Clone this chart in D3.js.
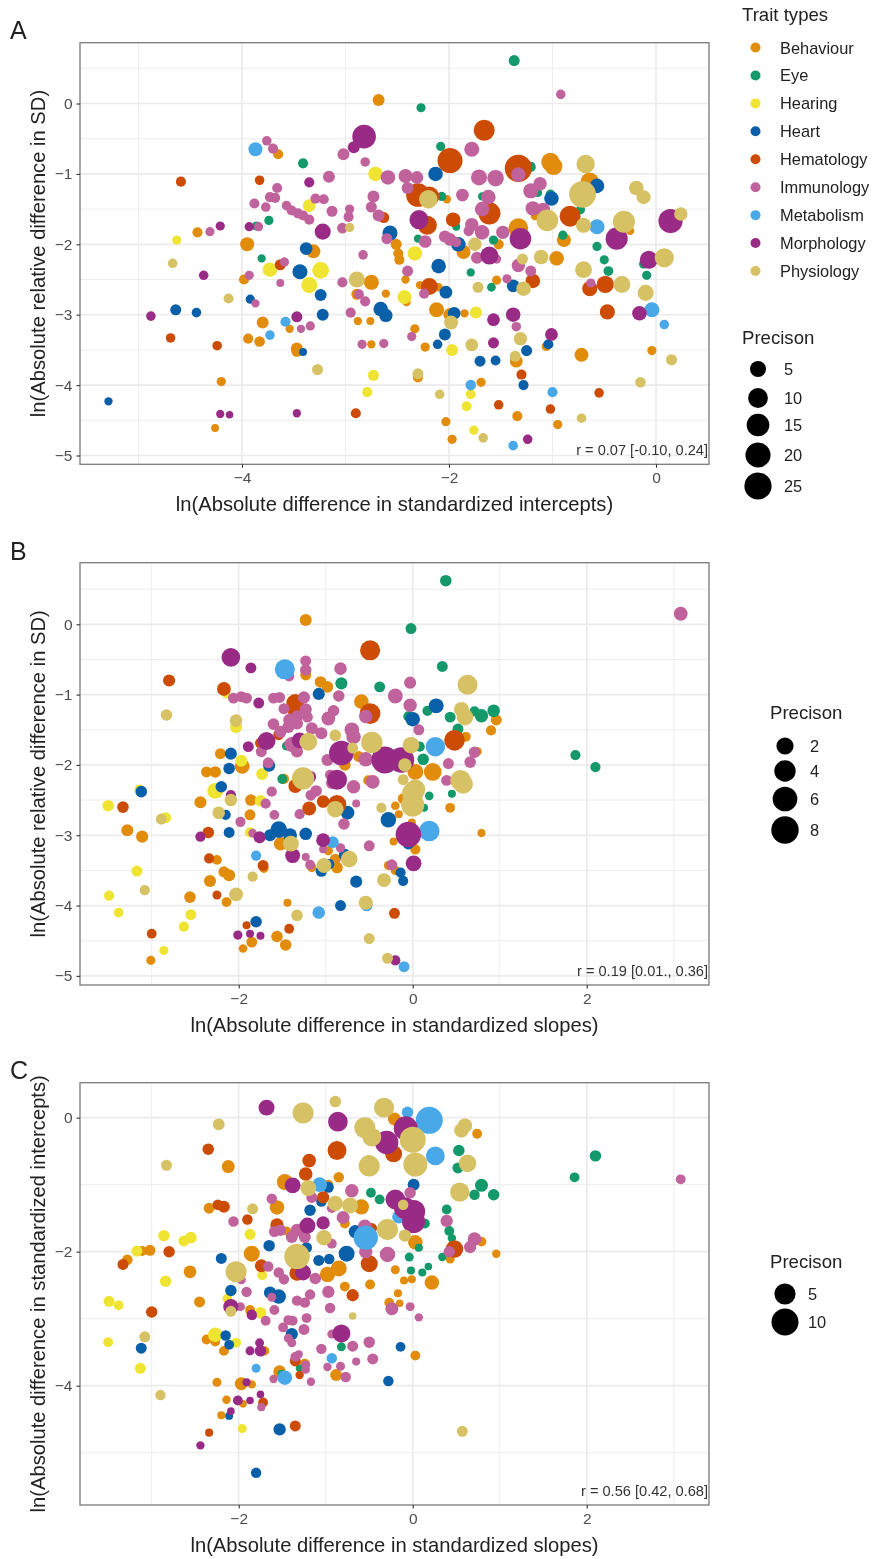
<!DOCTYPE html>
<html><head><meta charset="utf-8">
<script src="https://cdn.jsdelivr.net/npm/d3@7"></script>
<style>
html,body{margin:0;padding:0;background:#fff}
svg{display:block;filter:blur(0.55px)}
text{font-family:"Liberation Sans",Arial,sans-serif}
</style></head><body>
<svg id="c" width="874" height="1559"></svg>
<script>
const traits=["Behaviour","Eye","Hearing","Heart","Hematology","Immunology","Metabolism","Morphology","Physiology"];
const traitColors=["#E28C0B","#14996A","#F0E432","#0A60A8","#CD4C05","#C0629B","#49A8E8","#992B87","#D6C164"];

// Panel A: [ln diff intercepts, ln relative diff SD, precision]
const A_Behaviour=[[-2.68,.05,1.5],[-3.65,-.72,.6],[-4.43,-1.83,.6],[-3.95,-2,3],[-3.31,-2.1,3],[-2.51,-2,1],[-2.49,-2.13,.6],[-2.48,-2.22,.6],[-2.75,-2.54,4],[-2.89,-2.71,1],[-2.61,-2.7,.1],[-3.98,-2.5,.6],[-3.8,-3.11,1.5],[-3.54,-3.2,.1],[-2.88,-3.09,.1],[-2.76,-3.09,.05],[-2.75,-3.42,.1],[-3.94,-3.34,.6],[-3.83,-3.38,.8],[-3.47,-3.48,1.5],[-3.47,-3.52,1],[-4.2,-3.95,.3],[-4.26,-4.61,.05],[-1.02,-.83,8],[-.99,-.89,7],[-2.02,-1.36,.1],[-1.33,-1.77,10],[-.64,-1.11,8],[-.25,-1.81,.1],[-1.17,-1.6,.1],[-1.52,-2,.6],[-1.86,-2.11,3],[-.89,-1.94,3],[-.96,-2.2,3.5],[-2.42,-2.5,.1],[-1.54,-2.51,.3],[-2.28,-2.58,.1],[-2.1,-2.61,.1],[-2.41,-2.82,.1],[-2.12,-2.93,4],[-1.99,-3,2.5],[-1.85,-2.98,.1],[-2.33,-3.2,.3],[-2.23,-3.46,.3],[-1.06,-3.45,.3],[-1.35,-3.66,2],[-2.3,-3.89,.6],[-1.69,-3.96,.3],[-.72,-3.57,3],[-.04,-3.51,.3],[-2.03,-4.52,.3],[-1.34,-4.44,.6],[-.95,-4.56,.3],[-1.97,-4.77,.3]];
const A_Eye=[[-3.41,-.85,.6],[-3.74,-1.66,.3],[-3.86,-1.74,.3],[-3.81,-2.2,.1],[-1.37,.61,1],[-2.27,-.06,.3],[-2.08,-.61,.3],[-1.21,-.9,.6],[-2.07,-1.32,.3],[-1.68,-1.32,.1],[-1.14,-1.27,.1],[-1.02,-1.29,.4],[-1.93,-1.75,.05],[-2.3,-1.92,.1],[-1.57,-1.94,.3],[-.9,-1.87,.3],[-.73,-1.51,.3],[-.57,-2.03,.3],[-.5,-2.22,.3],[-.46,-2.38,.5],[-.12,-2.28,.3],[-.09,-2.44,.3],[-1.79,-2.4,.1],[-1.59,-2.61,.2]];
const A_Hearing=[[-4.63,-1.94,.3],[-2.71,-1,3.5],[-3.35,-1.45,2],[-3.73,-2.36,3.5],[-3.24,-2.37,6],[-3.35,-2.58,5],[-2.43,-2.75,3],[-2.73,-3.86,1],[-2.79,-4.1,.6],[-2.33,-2.13,3.5],[-1.74,-2.97,1.5],[-1.97,-3.5,1.5],[-1.79,-4.13,.5],[-1.83,-4.3,.5],[-1.76,-4.64,.3]];
const A_Heart=[[-5.29,-4.23,.1],[-4.64,-2.93,1],[-4.44,-2.97,.4],[-3.92,-2.78,.3],[-3.44,-2.39,4],[-3.38,-2.06,2],[-3.24,-2.72,1.5],[-3.22,-3,1.5],[-2.57,-1.84,4],[-2.66,-2.92,3.5],[-2.61,-3.01,2.5],[-3.41,-3.53,.05],[-2.13,-1,3.5],[-1.91,-2,3.5],[-2.1,-2.31,3.5],[-2.03,-2.68,2],[-1.95,-2.98,2],[-2.04,-3.28,1.5],[-2.11,-3.42,.4],[-1.01,-1.35,3.5],[-.57,-1.17,3.5],[-1.38,-2.59,2],[-1.04,-3.42,.6],[-1.25,-3.51,1],[-1.7,-3.66,1],[-1.55,-3.65,.5],[-1.28,-4,.6]];
const A_Hematology=[[-4.59,-1.11,.6],[-3.83,-1.09,.4],[-2.63,-1.62,1],[-3.63,-2.29,1],[-4.69,-3.33,.4],[-4.24,-3.44,.4],[-2.9,-4.4,.6],[-1.66,-.38,12],[-1.99,-.81,20],[-1.33,-.92,25],[-2.3,-1.3,17],[-2.19,-1.32,10],[-1.61,-1.56,14],[-2.21,-1.73,9],[-1.96,-1.65,3.5],[-.83,-1.6,12],[-2.19,-2.6,6],[-1.19,-2.52,3.5],[-.64,-2.63,4],[-.49,-2.57,6.5],[-.47,-2.96,4],[-1.3,-3.85,.6],[-.55,-4.11,.4],[-1.52,-4.28,.4],[-1.02,-4.34,.4]];
const A_Immunology=[[-3.76,-.53,.4],[-3.7,-.64,.6],[-3.02,-.72,1.5],[-2.81,-.83,.4],[-3.16,-1.04,1.5],[-2.59,-1.05,3.5],[-3.66,-1.2,.6],[-3.73,-1.33,.6],[-3.68,-1.34,.6],[-3.88,-1.42,.6],[-3.77,-1.47,.4],[-3.57,-1.45,.4],[-3.52,-1.52,.6],[-3.46,-1.56,.6],[-3.41,-1.59,.6],[-3.35,-1.65,.6],[-3.29,-1.35,.6],[-3.21,-1.36,.6],[-3.13,-1.53,1],[-2.96,-1.5,.3],[-2.97,-1.61,.6],[-3.03,-1.77,.8],[-2.73,-1.32,1.5],[-2.75,-1.47,1],[-2.68,-1.59,1.5],[-3.84,-1.75,.3],[-4.31,-1.82,.3],[-2.6,-1.92,1],[-2.83,-2.15,.4],[-3.59,-2.25,.3],[-3.93,-2.44,.3],[-3.63,-2.55,.05],[-3.03,-2.54,.6],[-2.87,-2.71,.5],[-2.81,-2.81,.6],[-3.87,-2.84,.1],[-2.95,-2.97,.6],[-3.43,-3.2,.1],[-3.34,-3.16,.3],[-2.84,-3.42,.3],[-2.63,-3.41,.3],[-.92,.13,.4],[-1.78,-.65,4],[-2.42,-1.03,3],[-2.31,-1.05,2],[-2.4,-1.2,1.5],[-1.87,-1.3,2],[-1.71,-1.05,5],[-1.55,-1.06,5.5],[-1.33,-1.01,3.5],[-1.12,-1.14,2.5],[-1.21,-1.24,4],[-1.62,-1.33,3.5],[-1.68,-1.5,3.5],[-1.19,-1.49,3.5],[-1.09,-1.51,3],[-1.78,-1.72,2.5],[-1.81,-1.81,.7],[-1.68,-1.83,3.5],[-2.04,-1.89,1.5],[-1.99,-1.93,2],[-1.93,-1.97,.5],[-2.23,-1.96,2],[-1.48,-1.83,2.5],[-1.73,-2.19,1.5],[-1.54,-2.21,.3],[-1.33,-2.3,2.5],[-1.21,-2.38,1],[-1.44,-2.49,.3],[-2.4,-2.38,1],[-2.24,-2.7,.6],[-.63,-2.55,.3],[-1.35,-3.17,.4],[-2.36,-3.31,.3]];
const A_Metabolism=[[-3.87,-.65,3],[-3.58,-3.1,.6],[-3.73,-3.29,.4],[-.57,-1.75,4],[-.04,-2.93,4],[.08,-3.14,.4],[-1.79,-4,.8],[-1,-4.1,.6],[-1.38,-4.86,.4]];
const A_Morphology=[[-2.82,-.47,17],[-2.92,-.62,1.5],[-3.35,-1.12,.6],[-4.21,-1.74,.3],[-3.93,-1.75,.3],[-3.22,-1.82,5],[-4.37,-2.44,.4],[-4.88,-3.02,.4],[-3.47,-3.03,1],[-4.21,-4.41,.1],[-4.12,-4.42,.02],[-3.47,-4.4,.1],[-2.29,-1.65,9],[-1.31,-1.92,13],[-1.61,-2.16,7.5],[-.38,-1.92,14],[.14,-1.67,18],[-.07,-2.22,7.5],[-.16,-2.98,3.5],[-1.38,-3,3.5],[-1.57,-3.07,2],[-1.57,-3.4,1],[-1.01,-3.28,2],[-1.24,-4.77,.4]];
const A_Physiology=[[-4.67,-2.27,.4],[-4.13,-2.77,.6],[-3.27,-3.78,1],[-2.89,-2.5,5],[-2.96,-1.76,.3],[-2.2,-1.36,8],[-1.75,-2,2.5],[-1.29,-2.21,1],[-1.11,-2.18,3.5],[-1.05,-1.66,13],[-.71,-1.29,24],[-.68,-.86,8],[-.7,-1.73,4],[-.31,-1.68,14],[.24,-1.57,2.5],[-.19,-1.2,3.5],[-.12,-1.33,3],[.08,-2.19,9],[-.7,-2.36,6],[-.33,-2.57,6],[-.1,-2.69,5],[-1.28,-2.63,3.5],[-1.72,-2.61,1],[-1.98,-3.11,3],[-1.78,-3.43,2],[-1.31,-3.34,2.5],[-1.36,-3.59,1],[-2.3,-3.84,1],[-2.09,-4.13,.4],[-1.67,-4.75,.4],[-.72,-4.47,.4],[-.15,-3.96,.8],[.15,-3.64,1]];

// Panel B: [ln diff slopes, ln relative diff SD, precision]
const B_Behaviour=[[-1.23,.06,.5],[-1.06,-.82,.4],[-.98,-.89,.4],[-1.23,-.72,.3],[-.59,-1.1,1.1],[-2.21,-1.84,.3],[-2.37,-2.1,.3],[-2.27,-2.1,.4],[-1.96,-2.02,1.2],[-2.44,-2.53,.5],[-1.86,-2.5,.4],[-1.87,-2.71,.3],[-3.28,-2.93,.5],[-3.11,-3.02,.5],[-2.25,-3.35,.15],[-2.17,-3.52,.3],[-2.11,-3.57,.5],[-2.33,-3.65,.5],[-2.56,-3.88,.4],[-2.14,-3.95,.15],[-1.44,-3.96,.02],[-1.85,-4.52,.3],[-1.95,-4.61,.05],[-1.56,-4.44,.4],[-1.46,-4.56,.4],[-3.01,-4.78,.08],[-1.52,-3.12,.8],[-.87,-3.46,.4],[-.89,-3.34,.3],[-.97,-3.22,.1],[-1.16,-3.46,.1],[-1.71,-3.47,.1],[-.78,-2,.4],[-.62,-1.88,.3],[-.51,-2.22,.2],[-1.48,-2.2,.2],[.03,-2.1,1.5],[.23,-2.1,2.2],[-.2,-2.58,.05],[-.16,-2.7,.02],[.43,-2.61,.15],[-.01,-2.82,.02],[.79,-2.97,.02],[-.22,-3.09,.02],[.03,-3.2,.2],[-.28,-3.43,.08],[-.2,-3.5,.1],[-.11,-2.48,.3],[.96,-1.36,.3],[.9,-1.51,.2],[.61,-1.6,.15],[.74,-1.81,.1]];
const B_Eye=[[.38,.62,.4],[-.02,-.06,.3],[.34,-.6,.3],[-.82,-.84,.5],[-.38,-.89,.3],[-.05,-1.31,.2],[.17,-1.23,.2],[.43,-1.32,.3],[.71,-1.24,.2],[.79,-1.3,.8],[.93,-1.23,.6],[.52,-1.49,.3],[.12,-1.92,.4],[.08,-1.74,.2],[.19,-2.44,.05],[.45,-2.41,.02],[.13,-2.61,.02],[-1.5,-2.2,.15],[-1.45,-1.73,.1],[1.87,-1.86,.2],[2.1,-2.03,.2]];
const B_Hearing=[[-3.5,-2.58,.4],[-3.14,-2.35,.2],[-2.84,-2.75,.3],[-2.27,-2.37,1.5],[-1.97,-1.94,.5],[-2.03,-1.46,.5],[-1.73,-2.13,.5],[-1.75,-2.51,.4],[-1.87,-2.96,.2],[-3.17,-3.51,.3],[-3.49,-3.86,.2],[-3.38,-4.1,.15],[-2.55,-4.13,.3],[-2.63,-4.3,.2],[-2.86,-4.64,.08],[-2.14,-1,.02]];
const B_Heart=[[-3.12,-2.38,.4],[-2.09,-1.84,.5],[-2.11,-2.05,.4],[-2.2,-2.31,.4],[-2.15,-2.71,.2],[-2.11,-2.96,.3],[-1.65,-2.01,.5],[-1.8,-4.23,.4],[-1.64,-3,.5],[-1.54,-2.92,1.8],[-1.41,-3,.9],[-1.23,-2.98,.6],[-1.08,-.99,.5],[-1.18,-2.62,.3],[-.75,-2.68,.9],[-.78,-3.28,.5],[-1.05,-3.51,.4],[-.65,-3.66,.5],[-.83,-4,.3],[-.28,-2.78,1.4],[0,-1.35,1.1],[.27,-1.16,1.2],[-.05,-3.12,.4],[-.14,-3.53,.2],[-.11,-3.65,.2],[-.96,-3.41,.2]];
const B_Hematology=[[-2.8,-.8,.5],[-2.17,-.92,.9],[-.49,-.37,3.3],[-1.35,-1.12,2.3],[-.49,-1.27,3.6],[-1.37,-1.2,1],[-1.54,-1.57,.3],[-1.75,-1.69,.3],[-3.33,-2.6,.4],[-2.35,-2.96,.4],[-2.34,-3.33,.2],[-1.72,-3.43,.3],[-2.25,-3.85,.08],[-3,-4.4,.15],[-1.91,-4.28,.02],[-1.42,-4.33,.15],[-1.35,-2.3,.9],[-1.19,-2.62,.9],[-1.03,-2.52,.6],[-.87,-2.56,2.6],[-.21,-4.11,.3],[.48,-1.65,3.6]];
const B_Immunology=[[-1.23,-.52,.3],[-1.23,-.65,.4],[-1.42,-.74,.2],[-.83,-.63,.6],[-.03,-.83,.5],[-.2,-1.02,1.2],[-.03,-1.15,.8],[-.85,-1.02,.4],[-2.06,-1.05,.3],[-1.97,-1.03,.3],[-1.91,-1.05,.3],[-1.6,-1.05,.3],[-1.53,-1.04,.3],[-1.25,-1.04,.5],[-1.48,-1.2,.3],[-1.23,-1.21,.5],[-.91,-1.23,.4],[-.97,-1.34,.9],[-.54,-1.31,.8],[-1.42,-1.36,.5],[-1.33,-1.31,.5],[-1.21,-1.32,.3],[-1.6,-1.42,.4],[-1.43,-1.46,.5],[-1.33,-1.41,.5],[-1.52,-1.53,.5],[-1.16,-1.48,.5],[-1.05,-1.55,.5],[-.7,-1.5,1.1],[-.68,-1.6,1.1],[-1.39,-1.71,1.2],[-1.33,-1.81,.5],[-1.74,-1.81,.3],[-1.66,-1.97,.3],[-.98,-1.93,.5],[-.54,-1.92,1.1],[.07,-1.5,.3],[.71,-1.82,.4],[.66,-1.96,.4],[.41,-1.98,.3],[.39,-2.22,.3],[-.95,-2.14,.2],[-.46,-2.24,.9],[-.68,-2.31,.8],[-.93,-2.26,.4],[-1.11,-2.37,.4],[-1.17,-2.43,.3],[-1.62,-2.38,.2],[-1.69,-2.55,.2],[-1.59,-2.71,.15],[-1.3,-2.7,.2],[-1.98,-2.81,.2],[-1.84,-2.97,.05],[-.79,-2.84,.4],[-.65,-2.55,.02],[-.5,-3.15,.3],[-.83,-3.18,.1],[-1.23,-3.31,.02],[-1.18,-3.42,.15],[-.24,-3.42,.3],[-1.03,-3.2,.02],[3.08,.15,.9]];
const B_Metabolism=[[-1.47,-.64,3.3],[.26,-1.74,3],[.19,-2.94,3.6],[-.92,-3.1,.5],[-1.8,-3.29,.2],[-1.08,-4.1,.6],[-.53,-4,.4],[-.1,-4.87,.3]];
const B_Morphology=[[-2.09,-.47,2.6],[-1.86,-.62,.3],[-1.77,-1.12,.3],[-1.68,-1.66,2.3],[-1.89,-1.74,.3],[-1.3,-1.65,1.5],[-.82,-1.83,6],[-.87,-2.21,3.3],[-.32,-1.93,7.7],[-.13,-1.93,6.6],[-2.09,-2.43,.2],[-1.18,-2.17,.5],[-2.44,-3.02,.2],[-1.76,-3.03,.5],[-1.03,-3.07,.9],[-.05,-2.99,6.6],[-1.38,-3.29,1.2],[.01,-3.4,1.5],[-2.01,-4.42,.1],[-1.87,-4.4,.02],[-1.75,-4.43,.02],[-.2,-4.78,.2]];
const B_Physiology=[[-2.83,-1.29,.4],[-2.03,-1.37,.6],[-.89,-1.58,.4],[-1.2,-1.67,2.3],[-.47,-1.68,4],[-.69,-1.76,.3],[-.02,-1.72,1.8],[-.09,-2,.8],[-1.26,-2.19,4.5],[.63,-.86,3.3],[.56,-1.21,1.2],[.6,-1.32,1.8],[.55,-2.22,3.6],[.58,-2.27,3],[-2.09,-2.5,.6],[-2.23,-2.68,.6],[-2.89,-2.77,.3],[-1.4,-3.12,1.5],[-.89,-2.63,1.8],[-.36,-2.61,.2],[-.11,-2.21,.3],[.03,-2.35,3.3],[0,-2.57,5],[0,-2.4,4],[-1.02,-3.43,1.2],[-.73,-3.34,1.8],[-.33,-3.64,.9],[-1.84,-3.59,.2],[-3.08,-3.78,.2],[-2.03,-3.84,.9],[-.54,-3.96,1],[-1.33,-4.14,.4],[-.5,-4.47,.3],[-.29,-4.75,.3]];

// Panel C: [ln diff slopes, ln diff intercepts, precision]
const C_Behaviour=[[-2.12,-.73,.9],[-.21,-.02,.9],[-.51,-.66,1],[.74,-.24,.2],[-.85,-.89,.3],[-1.47,-.96,2],[-.97,-1,.2],[-1.56,-1.34,1.4],[-2.34,-1.35,.4],[-.59,-1.33,1.7],[-.78,-1.58,.2],[-1.56,-1.61,.6],[-1.45,-1.69,.1],[-1.85,-2.03,2],[-3.02,-1.98,.4],[-3.11,-1.99,.2],[-3.28,-2.12,.3],[-2.56,-2.3,.8],[-2.45,-2.75,.4],[-.85,-2.25,2],[-.98,-2.34,1.7],[-.2,-2.27,.1],[-.1,-2.43,.03],[-.01,-2.41,.03],[-.49,-2.49,.2],[-.78,-2.52,.2],[-.17,-2.62,.03],[-.27,-2.76,.2],[-.15,-2.77,.01],[.22,-2.46,1.4],[.03,-1.86,1.4],[.79,-1.85,.2],[.96,-2.03,.05],[.43,-2.11,.1],[-1.87,-2.87,.2],[-2.37,-3.31,.2],[-2.27,-3.34,.2],[-2.17,-3.48,.2],[-1.7,-3.48,.1],[.03,-3.55,.2],[-1.53,-3.79,.8],[-.88,-3.84,.6],[-2.25,-3.95,.1],[-1.97,-3.97,.9],[-1.85,-3.98,.05],[-2.14,-4.21,.05],[-1.95,-4.27,.01],[-2.2,-4.44,.03],[-1.24,-3.67,.2]];
const C_Eye=[[.53,-.49,.5],[.52,-.75,.4],[.79,-1.01,.9],[.93,-1.15,.5],[.71,-1.15,.3],[.39,-1.37,.2],[.42,-1.69,.2],[.45,-1.8,.05],[.34,-2.08,.05],[.11,-2.31,.03],[.18,-2.22,.01],[.14,-1.58,.2],[-.48,-1.12,.2],[-.38,-1.22,.2],[-.04,-2.08,.1],[-.02,-2.28,.03],[.07,-1.94,.03],[-.82,-3.42,.1],[-1.3,-3.74,.01],[-1.51,-3.82,.01],[1.86,-.89,.2],[2.1,-.57,.5]];
const C_Hearing=[[-2.86,-1.76,.5],[-2.63,-1.84,.4],[-2.55,-1.79,.6],[-3.17,-1.99,.4],[-2.84,-2.44,.5],[-3.49,-2.74,.4],[-3.38,-2.8,.2],[-3.5,-3.35,.2],[-3.13,-3.74,.4],[-2.27,-3.24,1.4],[-2.03,-3.36,.2],[-1.87,-1.74,.4],[-1.73,-2.35,.2],[-1.75,-2.91,.5],[-2.13,-2.7,.2],[-1.96,-4.64,.1]];
const C_Heart=[[.01,-1,.6],[-.97,-1.04,.4],[-1.05,-1.25,.3],[-1.18,-1.38,.5],[-.66,-1.7,1],[-1.65,-1.91,.5],[-1.22,-1.94,.4],[-.76,-2.03,2],[-1.08,-2.13,.4],[-.96,-2.11,.3],[-2.2,-2.1,.4],[-2.09,-2.58,.5],[-1.64,-2.61,.7],[-1.54,-2.67,1.4],[-1.39,-3.23,.7],[-2.15,-3.25,.3],[-2.11,-3.39,.2],[-3.12,-3.44,.4],[-.14,-3.42,.2],[-.28,-3.93,.3],[-2.11,-4.45,.02],[-1.53,-4.65,.7],[-1.8,-5.3,.3]];
const C_Hematology=[[-2.35,-.47,.5],[-.87,-.49,3.5],[-1.19,-.64,1.1],[-1.23,-.84,1.1],[-.22,-.54,2.5],[-1.03,-1.19,.7],[-2.24,-1.3,.3],[-2.17,-1.33,.6],[-1.9,-1.52,.3],[-1.56,-1.6,1],[-2.8,-2,.5],[-3.33,-2.19,.4],[-3,-2.9,.5],[-1.74,-2.21,.9],[-1.33,-2.32,1.7],[-.5,-2.18,2.5],[-.69,-2.65,.7],[-.47,-1.65,.3],[.48,-1.96,2.7],[-1.35,-3.63,.4],[-1.3,-3.84,.05],[-1.72,-4.25,.2],[-2.34,-4.7,.03],[-1.35,-4.6,.4]];
const C_Immunology=[[-.7,-1.09,1.1],[-.03,-1.12,.5],[-1.62,-1.21,.3],[-1.16,-1.19,.4],[-.93,-1.35,.2],[-.8,-1.49,.9],[-2.06,-1.55,.3],[-1.59,-1.7,.4],[-1.52,-1.68,.5],[-1.33,-1.68,.9],[-1.39,-1.78,.6],[-1.24,-1.78,.6],[-.55,-1.62,1.1],[-.93,-1.88,.2],[-.54,-2,1],[-.29,-2.04,1.8],[-1.66,-2.22,.3],[-1.54,-2.31,.3],[-1.48,-2.41,.3],[-1.12,-2.4,.5],[-1.97,-2.42,.1],[-1.91,-2.6,.3],[-1.62,-2.68,.1],[-1.33,-2.73,.3],[-1.24,-2.76,.3],[-1.18,-2.64,.3],[-.97,-2.6,.7],[-.95,-2.84,.3],[-1.59,-2.87,.2],[-1.98,-2.82,.1],[-1.84,-2.96,.05],[-1.69,-3.03,.2],[-1.43,-3.02,.2],[-1.38,-3.03,.2],[-1.22,-2.99,.2],[-1.49,-3.13,.2],[-1.25,-3.16,.4],[-1.43,-3.29,.1],[-1.39,-3.36,.1],[-.93,-3.23,.1],[-1.05,-3.45,.3],[-.69,-3.41,.4],[-.5,-3.35,.5],[-.46,-3.6,.4],[-.65,-3.64,.03],[-.83,-3.71,.1],[-.98,-3.72,.05],[-.77,-3.87,.3],[-1.17,-3.94,.05],[-1.6,-3.9,.05],[-1.35,-3.57,.2],[-1.31,-3.53,.03],[-1.23,-3.69,.1],[-1.23,-3.76,.05],[-.24,-2.85,.9],[-.03,-2.82,.1],[.07,-2.98,.05],[-1.74,-4.32,.03],[.39,-1.54,.7],[.71,-1.81,1.1],[.66,-1.93,.7],[.42,-2,.5],[3.08,-.92,.2]];
const C_Metabolism=[[.19,-.04,10],[-.06,.08,.5],[.26,-.57,3.5],[-1.07,-1,1.5],[-.54,-1.79,7.5],[-.16,-1.48,1],[-.93,-3.59,.3],[-1.8,-3.74,.1],[-1.47,-3.88,1.4]];
const C_Morphology=[[-1.68,.15,2],[-.86,-.06,4],[-.08,-.16,7.3],[-.3,-.37,6.8],[-1.38,-1.01,2],[-1.21,-1.61,2],[-1.03,-1.57,1],[-.2,-1.22,4],[-.09,-1.35,5.5],[.01,-1.4,6.5],[.01,-1.55,6.5],[-1.26,-2.31,2],[-2.09,-2.82,1.7],[-1.85,-2.94,.3],[-1.76,-3.36,.1],[-1.87,-3.48,.1],[-1.75,-3.48,.5],[-.82,-3.22,3],[-1.91,-3.95,.03],[-2.01,-4.22,.2],[-1.87,-4.22,.01],[-1.75,-4.13,.01],[-2.09,-4.38,.01],[-2.44,-4.89,.05]];
const C_Physiology=[[-.89,.24,.5],[-1.26,.07,5],[-.33,.15,4.2],[-.55,-.15,5],[-.47,-.29,3.5],[0,-.33,9],[-.5,-.72,5],[.03,-.7,7.3],[-2.23,-.1,.6],[-2.83,-.71,.4],[.6,-.12,1.4],[.56,-.19,1.4],[.63,-.68,2.7],[.54,-1.11,3.8],[-1.2,-1.05,2],[-1.84,-1.36,.4],[-.89,-1.28,1.7],[-.72,-1.31,2],[-.29,-1.67,5],[-.09,-1.76,.7],[-.11,-1.3,.3],[-1.02,-1.79,1.8],[-1.33,-2.07,8.5],[-2.03,-2.3,5],[-2.09,-2.89,.4],[-3.08,-3.27,.4],[-2.9,-4.14,.3],[-.69,-2.96,.01],[.57,-4.68,.4]];

const yTicksAB=[0,-1,-2,-3,-4,-5];
const yMinorAB=[.5,-.5,-1.5,-2.5,-3.5,-4.5];
const xTicksA=[-4,-2,0], xMinorA=[-5,-3,-1];
const xTicksBC=[-2,0,2], xMinorBC=[-3,-1,1,3];
const yTicksC=[0,-2,-4], yMinorC=[-1,-3,-5];
const precisionA=[5,10,15,20,25], precisionB=[2,4,6,8], precisionC=[5,10];

const svg=d3.select("#c");
const color=d3.scaleOrdinal(traits,traitColors);

function panel(o){
  const g=svg.append("g");
  const L=80,R=709;
  const x=d3.scaleLinear().domain(o.xd).range([L,R]);
  const y=d3.scaleLinear().domain(o.yd).range([o.bottom,o.top]);
  const size=d3.scaleSqrt().domain([0,o.pmax]).range([3.5,14]);
  const grid=(vals,w)=>{
    g.append("g").selectAll("line").data(vals.x).join("line")
      .attr("x1",x).attr("x2",x).attr("y1",o.top).attr("y2",o.bottom)
      .attr("stroke","#EBEBEB").attr("stroke-width",w);
    g.append("g").selectAll("line").data(vals.y).join("line")
      .attr("y1",y).attr("y2",y).attr("x1",L).attr("x2",R)
      .attr("stroke","#EBEBEB").attr("stroke-width",w);
  };
  grid({x:o.xMinor,y:o.yMinor},.9);
  grid({x:o.xTicks,y:o.yTicks},1.7);
  traits.forEach((t,i)=>{
    g.append("g").selectAll("circle").data(o.data[i]).join("circle")
      .attr("cx",d=>x(d[0])).attr("cy",d=>y(d[1])).attr("r",d=>size(d[2]))
      .attr("fill",color(t));
  });
  g.append("rect").attr("x",L).attr("y",o.top).attr("width",R-L).attr("height",o.bottom-o.top)
    .attr("fill","none").attr("stroke","#7A7A7A").attr("stroke-width",1.3);
  const ax=g.append("g").attr("transform",`translate(0,${o.bottom})`)
    .call(d3.axisBottom(x).tickValues(o.xTicks).tickSize(3.5).tickPadding(4).tickFormat(d3.format("d")));
  const ay=g.append("g").attr("transform",`translate(${L},0)`)
    .call(d3.axisLeft(y).tickValues(o.yTicks).tickSize(3.5).tickPadding(4).tickFormat(d3.format("d")));
  [ax,ay].forEach(a=>{
    a.select(".domain").remove();
    a.selectAll("line").attr("stroke","#333").attr("stroke-width",1.1);
    a.selectAll("text").attr("fill","#4D4D4D").style("font-size","15.5px").style("font-family",'"Liberation Sans",Arial,sans-serif');
  });
  g.append("text").attr("x",o.letterX).attr("y",o.letterY).attr("font-size",25).attr("fill","#222").text(o.letter);
  g.append("text").attr("x",(L+R)/2-(o.xTitleShift||0)).attr("y",o.bottom+47).attr("text-anchor","middle")
    .attr("font-size",o.xFont).attr("fill","#222").text(o.xTitle);
  g.append("text").attr("transform",`translate(${o.yTitleX},${(o.top+o.bottom)/2}) rotate(-90)`).attr("text-anchor","middle")
    .attr("font-size",o.yFont).attr("fill","#222").text(o.yTitle);
  g.append("text").attr("x",R-1).attr("y",o.bottom-9).attr("text-anchor","end").attr("font-size",14.6)
    .attr("fill","#333").text(o.note);
  // size legend
  const lg=o.legend;
  g.append("text").attr("x",lg.x).attr("y",lg.titleY).attr("font-size",18.6).attr("fill","#222").text("Precison");
  g.append("g").selectAll("circle").data(lg.vals).join("circle")
    .attr("cx",lg.cx).attr("cy",(d,i)=>lg.ys[i]).attr("r",d=>size(d)).attr("fill","#000");
  g.append("g").selectAll("text").data(lg.vals).join("text")
    .attr("x",lg.tx).attr("y",(d,i)=>lg.ys[i]+6).attr("font-size",16.4).attr("fill","#222").text(d=>d);
}

panel({letter:"A",letterX:10,letterY:39,top:42.7,bottom:464.3,xd:[-5.565,.512],yd:[-5.125,.864],
  xTicks:xTicksA,xMinor:xMinorA,yTicks:yTicksAB,yMinor:yMinorAB,pmax:27,
  data:[A_Behaviour,A_Eye,A_Hearing,A_Heart,A_Hematology,A_Immunology,A_Metabolism,A_Morphology,A_Physiology],
  xTitle:"ln(Absolute difference in standardized intercepts)",yTitle:"ln(Absolute relative difference in SD)",
  xFont:20.2,yFont:20.2,yTitleX:45,xTitleShift:0,note:"r = 0.07 [-0.10, 0.24]",
  legend:{x:742,titleY:344,vals:precisionA,cx:758,tx:784,ys:[369,398,425,455,486]}});
panel({letter:"B",letterX:10,letterY:560,top:562.7,bottom:985,xd:[-3.824,3.405],yd:[-5.13,.876],
  xTicks:xTicksBC,xMinor:xMinorBC,yTicks:yTicksAB,yMinor:yMinorAB,pmax:8.5,
  data:[B_Behaviour,B_Eye,B_Hearing,B_Heart,B_Hematology,B_Immunology,B_Metabolism,B_Morphology,B_Physiology],
  xTitle:"ln(Absolute difference in standardized slopes)",yTitle:"ln(Absolute relative difference in SD)",
  xFont:20.2,yFont:20.2,yTitleX:45,note:"r = 0.19 [0.01., 0.36]",
  legend:{x:770,titleY:719,vals:precisionB,cx:785,tx:810,ys:[746,771,799,830]}});
panel({letter:"C",letterX:10,letterY:1079,top:1082.7,bottom:1505,xd:[-3.824,3.405],yd:[-5.78,.522],
  xTicks:xTicksBC,xMinor:xMinorBC,yTicks:yTicksC,yMinor:yMinorC,pmax:11,
  data:[C_Behaviour,C_Eye,C_Hearing,C_Heart,C_Hematology,C_Immunology,C_Metabolism,C_Morphology,C_Physiology],
  xTitle:"ln(Absolute difference in standardized slopes)",yTitle:"ln(Absolute difference in standardized intercepts)",
  xFont:20.2,yFont:20.2,yTitleX:45,note:"r = 0.56 [0.42, 0.68]",
  legend:{x:770,titleY:1268,vals:precisionC,cx:785,tx:808,ys:[1294,1322]}});

// Trait legend
const leg=svg.append("g");
const legY=d3.scalePoint().domain(traits).range([47.5,271]);
leg.append("text").attr("x",742).attr("y",21).attr("font-size",18.6).attr("fill","#222").text("Trait types");
leg.selectAll("circle").data(traits).join("circle").attr("cx",755.5).attr("cy",d=>legY(d)).attr("r",5).attr("fill",d=>color(d));
leg.selectAll("text.l").data(traits).join("text").attr("class","l").attr("x",780).attr("y",d=>legY(d)+6)
  .attr("font-size",16.4).attr("fill","#222").text(d=>d);
</script></body></html>
